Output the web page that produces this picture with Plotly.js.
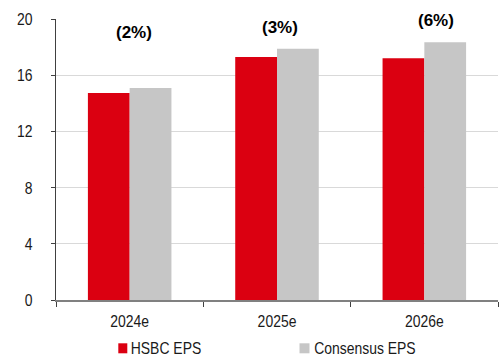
<!DOCTYPE html>
<html>
<head>
<meta charset="utf-8">
<script src="https://cdn.plot.ly/plotly-3.0.1.min.js"></script>
<style>
  html, body { margin: 0; padding: 0; background: #fff; }
  #chart { width: 504px; height: 358px; }
</style>
</head>
<body>
<div id="chart"></div>
<script>
// EPS forecasts by year
const years = ['2024e', '2025e', '2026e'];
const hsbcEps = [14.73, 17.3, 17.2];
const consensusEps = [15.09, 17.89, 18.34];
// Gap of HSBC vs consensus, shown above each year
const gapLabels = ['(2%)', '(3%)', '(6%)'];
const yTicks = [0, 4, 8, 12, 16, 20];

const RED = '#DB0011';
const GREY = '#C6C6C6';
const FONT = 'Liberation Sans, Arial, sans-serif';
const CONDENSE = 0.82; // horizontal squeeze for the narrow axis/legend text

const traces = [
  { type: 'bar', name: 'HSBC EPS', x: years, y: hsbcEps,
    marker: { color: RED }, showlegend: false, hoverinfo: 'skip' },
  { type: 'bar', name: 'Consensus EPS', x: years, y: consensusEps,
    marker: { color: GREY }, showlegend: false, hoverinfo: 'skip' }
];

// label positions (category index offset, value height)
const labelX = [0.03, 1.02, 2.08];
const labelY = [19.07, 19.36, 19.86];

const annotations = gapLabels.map((t, i) => ({
  text: '<b>' + t + '</b>', x: labelX[i], y: labelY[i], xref: 'x', yref: 'y',
  showarrow: false, xanchor: 'center', yanchor: 'middle',
  font: { family: FONT, size: 17, color: '#000' }
}));

// plot area in pixels
const W = 504, H = 358;
const plotL = 56, plotR = 498, plotTop = 19, plotBot = 300;
function px(p) { return (p - plotL) / (plotR - plotL); }
function py(p) { return (plotBot - p) / (plotBot - plotTop); }

// custom legend entries below the chart (swatch edges, text centre)
const legendItems = [
  { name: traces[0].name, color: RED, x0: 118.3, x1: 127.3, tc: 165.8 },
  { name: traces[1].name, color: GREY, x0: 299.5, x1: 309.5, tc: 364.9 }
];
const shapes = legendItems.map(it => ({
  type: 'rect', xref: 'paper', yref: 'paper',
  x0: px(it.x0), x1: px(it.x1), y0: py(353.3), y1: py(343.3),
  line: { width: 0 }, fillcolor: it.color
}));
legendItems.forEach(it => {
  annotations.push({ text: it.name, xref: 'paper', yref: 'paper',
    x: px(it.tc), y: py(348.5),
    xanchor: 'center', yanchor: 'middle', showarrow: false,
    font: { family: FONT, size: 17, color: '#1a1a1a' },
    captureevents: false, name: 'legend-text' });
});

const layout = {
  width: W, height: H,
  margin: { l: plotL, r: W - plotR, t: plotTop, b: H - plotBot },
  paper_bgcolor: '#fff', plot_bgcolor: '#fff',
  barmode: 'group', bargap: 0.433, bargroupgap: 0,
  font: { family: FONT, size: 17, color: '#1a1a1a' },
  showlegend: false,
  xaxis: {
    type: 'category', showgrid: false, zeroline: false,
    showline: true, linecolor: '#808080', linewidth: 2,
    ticks: 'outside', tickson: 'boundaries', ticklen: 5, tickcolor: '#404040', tickwidth: 1,
    ticklabelstandoff: 5,
    tickfont: { family: FONT, size: 17, color: '#1a1a1a' }
  },
  yaxis: {
    range: [0, 20], tickvals: yTicks, ticktext: yTicks.map(String),
    showgrid: true, gridcolor: '#d9d9d9', gridwidth: 1, zeroline: false,
    showline: true, linecolor: '#404040', linewidth: 1,
    ticks: 'outside', ticklen: 4, tickcolor: '#404040',
    ticklabelstandoff: 15,
    tickfont: { family: FONT, size: 17, color: '#1a1a1a' }
  },
  annotations: annotations,
  shapes: shapes
};

// squeeze axis and legend text horizontally to a narrow face
function condense(gd) {
  const sel = gd.querySelectorAll('.xtick text, .ytick text');
  const nodes = Array.from(sel);
  gd.querySelectorAll('.annotation').forEach(a => {
    const t = a.querySelector('text.annotation-text');
    if (t && !t.querySelector('tspan[style*="bold"]') && !/\(/.test(t.textContent)) nodes.push(t);
  });
  nodes.forEach(t => {
    const w = t.getComputedTextLength();
    t.setAttribute('textLength', (w * CONDENSE).toFixed(2));
    t.setAttribute('lengthAdjust', 'spacingAndGlyphs');
  });
}

Plotly.newPlot('chart', traces, layout, { staticPlot: true, displayModeBar: false })
  .then(gd => condense(gd));
</script>
</body>
</html>
